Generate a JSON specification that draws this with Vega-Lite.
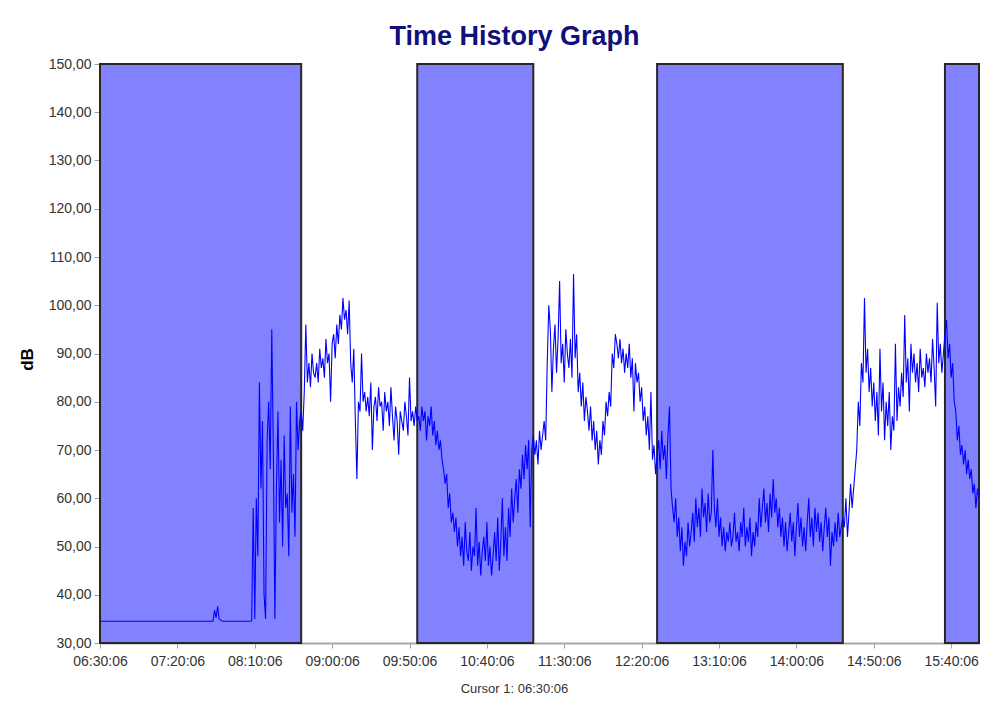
{
  "$schema": "https://vega.github.io/schema/vega-lite/v6.json",
  "width": 879,
  "height": 579,
  "autosize": {"type": "none"},
  "padding": {"left": 100, "top": 64, "right": 28, "bottom": 74},
  "background": "white",
  "config": {"view": {"stroke": null}, "font": "Liberation Sans"},
  "title": {
    "text": "Time History Graph",
    "font": "Liberation Sans",
    "fontSize": 27,
    "fontWeight": "bold",
    "color": "#10107a",
    "anchor": "middle",
    "baseline": "alphabetic",
    "offset": 19,
    "dx": -25,
    "dy": 34
  },
  "datasets": {
    "periods": [
      {"start": 0, "end": 130},
      {"start": 205, "end": 280},
      {"start": 360, "end": 480},
      {"start": 546, "end": 568}
    ],
    "levels": [
      {"m":0,"db":34.5},{"m":1,"db":34.5},{"m":2,"db":34.5},{"m":3,"db":34.5},{"m":4,"db":34.5},{"m":5,"db":34.5},{"m":6,"db":34.5},{"m":7,"db":34.5},{"m":8,"db":34.5},{"m":9,"db":34.5},
      {"m":10,"db":34.5},{"m":11,"db":34.5},{"m":12,"db":34.5},{"m":13,"db":34.5},{"m":14,"db":34.5},{"m":15,"db":34.5},{"m":16,"db":34.5},{"m":17,"db":34.5},{"m":18,"db":34.5},{"m":19,"db":34.5},
      {"m":20,"db":34.5},{"m":21,"db":34.5},{"m":22,"db":34.5},{"m":23,"db":34.5},{"m":24,"db":34.5},{"m":25,"db":34.5},{"m":26,"db":34.5},{"m":27,"db":34.5},{"m":28,"db":34.5},{"m":29,"db":34.5},
      {"m":30,"db":34.5},{"m":31,"db":34.5},{"m":32,"db":34.5},{"m":33,"db":34.5},{"m":34,"db":34.5},{"m":35,"db":34.5},{"m":36,"db":34.5},{"m":37,"db":34.5},{"m":38,"db":34.5},{"m":39,"db":34.5},
      {"m":40,"db":34.5},{"m":41,"db":34.5},{"m":42,"db":34.5},{"m":43,"db":34.5},{"m":44,"db":34.5},{"m":45,"db":34.5},{"m":46,"db":34.5},{"m":47,"db":34.5},{"m":48,"db":34.5},{"m":49,"db":34.5},
      {"m":50,"db":34.5},{"m":51,"db":34.5},{"m":52,"db":34.5},{"m":53,"db":34.5},{"m":54,"db":34.5},{"m":55,"db":34.5},{"m":56,"db":34.5},{"m":57,"db":34.5},{"m":58,"db":34.5},{"m":59,"db":34.5},
      {"m":60,"db":34.5},{"m":61,"db":34.5},{"m":62,"db":34.5},{"m":63,"db":34.5},{"m":64,"db":34.5},{"m":65,"db":34.5},{"m":66,"db":34.5},{"m":67,"db":34.5},{"m":68,"db":34.5},{"m":69,"db":34.5},
      {"m":70,"db":34.5},{"m":71,"db":34.5},{"m":72,"db":34.5},{"m":73,"db":34.5},{"m":74,"db":36.8},{"m":75,"db":35.2},{"m":76,"db":37.6},{"m":77,"db":35.0},{"m":78,"db":34.8},{"m":79,"db":34.5},
      {"m":80,"db":34.5},{"m":81,"db":34.5},{"m":82,"db":34.5},{"m":83,"db":34.5},{"m":84,"db":34.5},{"m":85,"db":34.5},{"m":86,"db":34.5},{"m":87,"db":34.5},{"m":88,"db":34.5},{"m":89,"db":34.5},
      {"m":90,"db":34.5},{"m":91,"db":34.5},{"m":92,"db":34.5},{"m":93,"db":34.5},{"m":94,"db":34.5},{"m":95,"db":34.5},{"m":96,"db":34.5},{"m":97,"db":34.5},{"m":98,"db":34.6},{"m":99,"db":58},
      {"m":100,"db":35},{"m":101,"db":60},{"m":102,"db":48},{"m":103,"db":84},{"m":104,"db":62},{"m":105,"db":76},{"m":106,"db":40},{"m":107,"db":35},{"m":108,"db":72},{"m":109,"db":80},
      {"m":110,"db":66},{"m":111,"db":95},{"m":112,"db":70},{"m":113,"db":35},{"m":114,"db":62},{"m":115,"db":78},{"m":116,"db":55},{"m":117,"db":68},{"m":118,"db":50},{"m":119,"db":73},
      {"m":120,"db":58},{"m":121,"db":61},{"m":122,"db":48},{"m":123,"db":79},{"m":124,"db":57},{"m":125,"db":65},{"m":126,"db":52},{"m":127,"db":80},{"m":128,"db":70},{"m":129,"db":76},
      {"m":130,"db":78},{"m":131,"db":74},{"m":132,"db":82},{"m":133,"db":96},{"m":134,"db":84},{"m":135,"db":88},{"m":136,"db":83},{"m":137,"db":90},{"m":138,"db":86},{"m":139,"db":85},
      {"m":140,"db":88},{"m":141,"db":84},{"m":142,"db":91},{"m":143,"db":87},{"m":144,"db":89},{"m":145,"db":85},{"m":146,"db":93},{"m":147,"db":88},{"m":148,"db":90},{"m":149,"db":80},
      {"m":150,"db":92},{"m":151,"db":94},{"m":152,"db":89},{"m":153,"db":96},{"m":154,"db":92},{"m":155,"db":98},{"m":156,"db":95},{"m":157,"db":101.5},{"m":158,"db":97},{"m":159,"db":99},
      {"m":160,"db":94},{"m":161,"db":101},{"m":162,"db":88},{"m":163,"db":84},{"m":164,"db":91},{"m":165,"db":76},{"m":166,"db":64},{"m":167,"db":80},{"m":168,"db":78},{"m":169,"db":90},
      {"m":170,"db":80},{"m":171,"db":82},{"m":172,"db":78},{"m":173,"db":81},{"m":174,"db":77},{"m":175,"db":84},{"m":176,"db":70},{"m":177,"db":79},{"m":178,"db":81},{"m":179,"db":76},
      {"m":180,"db":83},{"m":181,"db":79},{"m":182,"db":80},{"m":183,"db":74},{"m":184,"db":82},{"m":185,"db":78},{"m":186,"db":80},{"m":187,"db":75},{"m":188,"db":83},{"m":189,"db":77},
      {"m":190,"db":72},{"m":191,"db":79},{"m":192,"db":76},{"m":193,"db":69},{"m":194,"db":78},{"m":195,"db":76},{"m":196,"db":74},{"m":197,"db":80},{"m":198,"db":77},{"m":199,"db":73},
      {"m":200,"db":85},{"m":201,"db":76},{"m":202,"db":78},{"m":203,"db":75},{"m":204,"db":79},{"m":205,"db":76},{"m":206,"db":77},{"m":207,"db":74},{"m":208,"db":79},{"m":209,"db":76},
      {"m":210,"db":78},{"m":211,"db":72},{"m":212,"db":77},{"m":213,"db":75},{"m":214,"db":79},{"m":215,"db":73},{"m":216,"db":76},{"m":217,"db":71},{"m":218,"db":74},{"m":219,"db":70},
      {"m":220,"db":72},{"m":221,"db":68},{"m":222,"db":66},{"m":223,"db":63},{"m":224,"db":65},{"m":225,"db":58},{"m":226,"db":61},{"m":227,"db":55},{"m":228,"db":57},{"m":229,"db":53},
      {"m":230,"db":56},{"m":231,"db":50},{"m":232,"db":54},{"m":233,"db":48},{"m":234,"db":52},{"m":235,"db":46},{"m":236,"db":55},{"m":237,"db":49},{"m":238,"db":47},{"m":239,"db":53},
      {"m":240,"db":45},{"m":241,"db":50},{"m":242,"db":48},{"m":243,"db":58},{"m":244,"db":46},{"m":245,"db":51},{"m":246,"db":44},{"m":247,"db":49},{"m":248,"db":52},{"m":249,"db":47},
      {"m":250,"db":55},{"m":251,"db":46},{"m":252,"db":50},{"m":253,"db":44},{"m":254,"db":48},{"m":255,"db":53},{"m":256,"db":47},{"m":257,"db":56},{"m":258,"db":45},{"m":259,"db":51},
      {"m":260,"db":60},{"m":261,"db":48},{"m":262,"db":54},{"m":263,"db":47},{"m":264,"db":58},{"m":265,"db":52},{"m":266,"db":62},{"m":267,"db":55},{"m":268,"db":60},{"m":269,"db":64},
      {"m":270,"db":57},{"m":271,"db":66},{"m":272,"db":62},{"m":273,"db":69},{"m":274,"db":64},{"m":275,"db":71},{"m":276,"db":66},{"m":277,"db":72},{"m":278,"db":54},{"m":279,"db":70},
      {"m":280,"db":73},{"m":281,"db":69},{"m":282,"db":72},{"m":283,"db":67},{"m":284,"db":74},{"m":285,"db":70},{"m":286,"db":73},{"m":287,"db":76},{"m":288,"db":72},{"m":289,"db":88},
      {"m":290,"db":100},{"m":291,"db":95},{"m":292,"db":82},{"m":293,"db":91},{"m":294,"db":96},{"m":295,"db":86},{"m":296,"db":93},{"m":297,"db":105},{"m":298,"db":88},{"m":299,"db":92},
      {"m":300,"db":84},{"m":301,"db":95},{"m":302,"db":90},{"m":303,"db":87},{"m":304,"db":93},{"m":305,"db":85},{"m":306,"db":106.5},{"m":307,"db":89},{"m":308,"db":94},{"m":309,"db":82},
      {"m":310,"db":86},{"m":311,"db":79},{"m":312,"db":84},{"m":313,"db":76},{"m":314,"db":81},{"m":315,"db":78},{"m":316,"db":74},{"m":317,"db":79},{"m":318,"db":72},{"m":319,"db":76},
      {"m":320,"db":70},{"m":321,"db":74},{"m":322,"db":67},{"m":323,"db":72},{"m":324,"db":69},{"m":325,"db":76},{"m":326,"db":73},{"m":327,"db":80},{"m":328,"db":77},{"m":329,"db":82},
      {"m":330,"db":79},{"m":331,"db":90},{"m":332,"db":87},{"m":333,"db":94},{"m":334,"db":92},{"m":335,"db":89},{"m":336,"db":93},{"m":337,"db":88},{"m":338,"db":91},{"m":339,"db":86},
      {"m":340,"db":90},{"m":341,"db":87},{"m":342,"db":92},{"m":343,"db":85},{"m":344,"db":89},{"m":345,"db":78},{"m":346,"db":88},{"m":347,"db":84},{"m":348,"db":86},{"m":349,"db":80},
      {"m":350,"db":83},{"m":351,"db":76},{"m":352,"db":79},{"m":353,"db":73},{"m":354,"db":77},{"m":355,"db":70},{"m":356,"db":82},{"m":357,"db":68},{"m":358,"db":71},{"m":359,"db":65},
      {"m":360,"db":69},{"m":361,"db":72},{"m":362,"db":66},{"m":363,"db":74},{"m":364,"db":68},{"m":365,"db":71},{"m":366,"db":64},{"m":367,"db":73},{"m":368,"db":79},{"m":369,"db":62},
      {"m":370,"db":58},{"m":371,"db":55},{"m":372,"db":60},{"m":373,"db":52},{"m":374,"db":56},{"m":375,"db":49},{"m":376,"db":54},{"m":377,"db":46},{"m":378,"db":51},{"m":379,"db":48},
      {"m":380,"db":55},{"m":381,"db":50},{"m":382,"db":53},{"m":383,"db":57},{"m":384,"db":51},{"m":385,"db":60},{"m":386,"db":54},{"m":387,"db":58},{"m":388,"db":52},{"m":389,"db":62},
      {"m":390,"db":56},{"m":391,"db":59},{"m":392,"db":53},{"m":393,"db":61},{"m":394,"db":55},{"m":395,"db":57},{"m":396,"db":70},{"m":397,"db":58},{"m":398,"db":54},{"m":399,"db":60},
      {"m":400,"db":52},{"m":401,"db":56},{"m":402,"db":50},{"m":403,"db":54},{"m":404,"db":49},{"m":405,"db":53},{"m":406,"db":51},{"m":407,"db":55},{"m":408,"db":50},{"m":409,"db":52},
      {"m":410,"db":57},{"m":411,"db":51},{"m":412,"db":53},{"m":413,"db":49},{"m":414,"db":55},{"m":415,"db":52},{"m":416,"db":58},{"m":417,"db":50},{"m":418,"db":54},{"m":419,"db":51},
      {"m":420,"db":56},{"m":421,"db":48},{"m":422,"db":53},{"m":423,"db":50},{"m":424,"db":55},{"m":425,"db":52},{"m":426,"db":60},{"m":427,"db":54},{"m":428,"db":58},{"m":429,"db":62},
      {"m":430,"db":55},{"m":431,"db":59},{"m":432,"db":53},{"m":433,"db":61},{"m":434,"db":56},{"m":435,"db":64},{"m":436,"db":57},{"m":437,"db":60},{"m":438,"db":54},{"m":439,"db":58},
      {"m":440,"db":52},{"m":441,"db":56},{"m":442,"db":50},{"m":443,"db":55},{"m":444,"db":49},{"m":445,"db":53},{"m":446,"db":57},{"m":447,"db":51},{"m":448,"db":55},{"m":449,"db":48},
      {"m":450,"db":54},{"m":451,"db":59},{"m":452,"db":52},{"m":453,"db":56},{"m":454,"db":50},{"m":455,"db":54},{"m":456,"db":49},{"m":457,"db":55},{"m":458,"db":60},{"m":459,"db":52},
      {"m":460,"db":56},{"m":461,"db":50},{"m":462,"db":58},{"m":463,"db":53},{"m":464,"db":57},{"m":465,"db":51},{"m":466,"db":55},{"m":467,"db":49},{"m":468,"db":54},{"m":469,"db":58},
      {"m":470,"db":52},{"m":471,"db":56},{"m":472,"db":46},{"m":473,"db":53},{"m":474,"db":50},{"m":475,"db":55},{"m":476,"db":51},{"m":477,"db":57},{"m":478,"db":52},{"m":479,"db":54},
      {"m":480,"db":56},{"m":481,"db":54},{"m":482,"db":60},{"m":483,"db":52},{"m":484,"db":57},{"m":485,"db":63},{"m":486,"db":58},{"m":487,"db":62},{"m":488,"db":66},{"m":489,"db":70},
      {"m":490,"db":80},{"m":491,"db":75},{"m":492,"db":88},{"m":493,"db":84},{"m":494,"db":101.5},{"m":495,"db":86},{"m":496,"db":91},{"m":497,"db":82},{"m":498,"db":87},{"m":499,"db":79},
      {"m":500,"db":84},{"m":501,"db":76},{"m":502,"db":82},{"m":503,"db":73},{"m":504,"db":91},{"m":505,"db":78},{"m":506,"db":84},{"m":507,"db":72},{"m":508,"db":80},{"m":509,"db":75},
      {"m":510,"db":82},{"m":511,"db":70},{"m":512,"db":77},{"m":513,"db":74},{"m":514,"db":92},{"m":515,"db":76},{"m":516,"db":83},{"m":517,"db":79},{"m":518,"db":86},{"m":519,"db":81},
      {"m":520,"db":98},{"m":521,"db":84},{"m":522,"db":89},{"m":523,"db":78},{"m":524,"db":92},{"m":525,"db":86},{"m":526,"db":90},{"m":527,"db":84},{"m":528,"db":88},{"m":529,"db":82},
      {"m":530,"db":91},{"m":531,"db":85},{"m":532,"db":87},{"m":533,"db":83},{"m":534,"db":90},{"m":535,"db":86},{"m":536,"db":89},{"m":537,"db":84},{"m":538,"db":93},{"m":539,"db":87},
      {"m":540,"db":79},{"m":541,"db":100.5},{"m":542,"db":88},{"m":543,"db":92},{"m":544,"db":86},{"m":545,"db":90},{"m":546,"db":94},{"m":547,"db":97},{"m":548,"db":89},{"m":549,"db":92},
      {"m":550,"db":85},{"m":551,"db":88},{"m":552,"db":80},{"m":553,"db":78},{"m":554,"db":72},{"m":555,"db":75},{"m":556,"db":69},{"m":557,"db":71},{"m":558,"db":67},{"m":559,"db":70},
      {"m":560,"db":65},{"m":561,"db":68},{"m":562,"db":64},{"m":563,"db":66},{"m":564,"db":61},{"m":565,"db":63},{"m":566,"db":58},{"m":567,"db":62},{"m":568,"db":60}
    ]
  },
  "layer": [
    {
      "data": {"name": "periods"},
      "mark": {"type": "rect", "fill": "#8282ff", "stroke": "#262626", "strokeWidth": 2},
      "encoding": {
        "x": {"field": "start", "type": "quantitative", "scale": {"domain": [0, 568], "nice": false, "zero": false}},
        "x2": {"field": "end"}
      }
    },
    {
      "data": {"name": "levels"},
      "mark": {"type": "line", "color": "#0000ff", "strokeWidth": 1.1, "clip": true},
      "encoding": {
        "x": {
          "field": "m",
          "type": "quantitative",
          "scale": {"domain": [0, 568], "nice": false, "zero": false},
          "axis": {
            "values": [0, 50, 100, 150, 200, 250, 300, 350, 400, 450, 500, 550],
            "labelExpr": "timeFormat(datetime(2000, 0, 1, 6, 30 + datum.value, 6), '%H:%M:%S')",
            "labelFlush": false,
            "labelOverlap": false,
            "labelFontSize": 14,
            "labelColor": "#333333",
            "labelPadding": 6,
            "tickSize": 5,
            "tickColor": "#a0a0a0",
            "domainColor": "#a8a8a8",
            "domainWidth": 2,
            "grid": false,
            "title": "Cursor 1: 06:30:06",
            "titleFontSize": 13,
            "titleFontWeight": "normal",
            "titleColor": "#333333",
            "titleX": 414,
            "titleY": 49,
            "titleBaseline": "alphabetic"
          }
        },
        "y": {
          "field": "db",
          "type": "quantitative",
          "scale": {"domain": [30, 150], "nice": false, "zero": false},
          "axis": {
            "values": [30, 40, 50, 60, 70, 80, 90, 100, 110, 120, 130, 140, 150],
            "labelExpr": "replace(format(datum.value, '.2f'), '.', ',')",
            "labelFontSize": 14,
            "labelColor": "#333333",
            "labelPadding": 3,
            "tickSize": 6,
            "tickColor": "#a0a0a0",
            "domainColor": "#a8a8a8",
            "grid": false,
            "title": "dB",
            "titleFontSize": 17,
            "titleFontWeight": "bold",
            "titleColor": "#000000",
            "titleX": -73,
            "titleY": 295,
            "titleBaseline": "middle"
          }
        }
      }
    }
  ]
}
